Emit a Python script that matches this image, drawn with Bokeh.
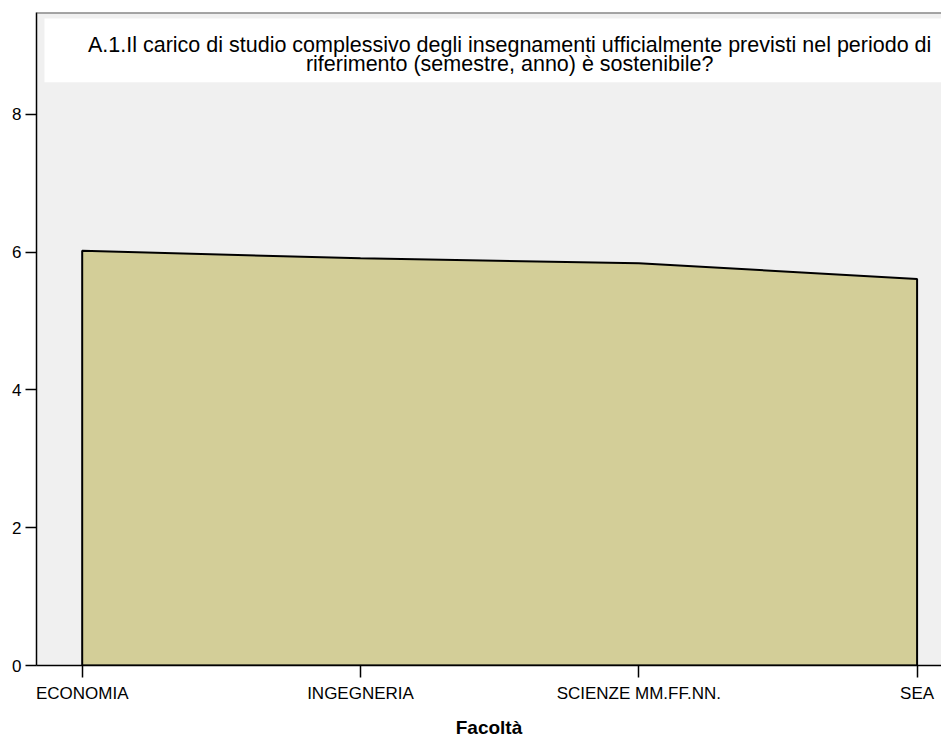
from bokeh.plotting import figure
from bokeh.models import FixedTicker, BoxAnnotation, Label, Span, Range1d
from bokeh.embed import file_html
from bokeh.resources import INLINE

# ---- data ----
categories = ["ECONOMIA", "INGEGNERIA", "SCIENZE MM.FF.NN.", "SEA"]
values = [6.02, 5.91, 5.84, 5.61]
y_ticks = [0, 2, 4, 6, 8]
title_lines = [
    "A.1.Il carico di studio complessivo degli insegnamenti ufficialmente previsti nel periodo di",
    "riferimento (semestre, anno) è sostenibile?",
]
x_label = "Facoltà"

FONT = "Liberation Sans"
idx = list(range(len(categories)))

p = figure(width=941, height=740, output_backend="svg", toolbar_location=None,
           x_range=Range1d(-0.1642, 3.0877), y_range=Range1d(0, 9.478),
           min_border_left=36, min_border_top=12, min_border_right=0, min_border_bottom=74)
p.background_fill_color = "#F0F0F0"
p.border_fill_color = "white"
p.outline_line_color = None
p.xgrid.visible = False
p.ygrid.visible = False

# title box
p.add_layout(BoxAnnotation(left=-0.1355, top=9.391, bottom=8.464,
                           fill_color="white", fill_alpha=1.0, line_color=None, level="underlay"))
p.add_layout(Label(x=1.536, y=9.0, text=title_lines[0], text_align="center",
                   text_baseline="alphabetic", text_font=FONT, text_font_size="21.5px",
                   text_color="black"))
p.add_layout(Label(x=1.536, y=8.725, text=title_lines[1], text_align="center",
                   text_baseline="alphabetic", text_font=FONT, text_font_size="21.5px",
                   text_color="black"))

# area
xs = [idx[0]] + idx + [idx[-1]]
ys = [0] + values + [0]
p.patch(xs, ys, fill_color="#D3CE98", line_color="black", line_width=2)

# top border
p.add_layout(Span(location=9.478, dimension="width", line_color="#555555", line_width=2))

# axes
p.xaxis.ticker = FixedTicker(ticks=idx)
p.xaxis.major_label_overrides = {i: c for i, c in zip(idx, categories)}
p.yaxis.ticker = FixedTicker(ticks=y_ticks)
for ax in (p.xaxis[0], p.yaxis[0]):
    ax.axis_line_color = "black"
    ax.axis_line_width = 1.5
    ax.major_tick_line_color = "black"
    ax.major_tick_line_width = 1.5
    ax.major_tick_in = 0
    ax.minor_tick_line_color = None
    ax.major_label_text_font = FONT
    ax.major_label_text_font_size = "17px"
    ax.major_label_text_color = "black"
p.yaxis.major_tick_out = 11
p.yaxis.major_label_standoff = 4
p.xaxis.major_tick_out = 12
p.xaxis.major_label_standoff = 6
p.xaxis.axis_label = x_label
p.xaxis.axis_label_text_font = FONT
p.xaxis.axis_label_text_font_style = "bold"
p.xaxis.axis_label_text_font_size = "19px"
p.xaxis.axis_label_text_color = "black"
p.xaxis.axis_label_standoff = 11

open("out.html", "w").write(file_html(p, INLINE))
